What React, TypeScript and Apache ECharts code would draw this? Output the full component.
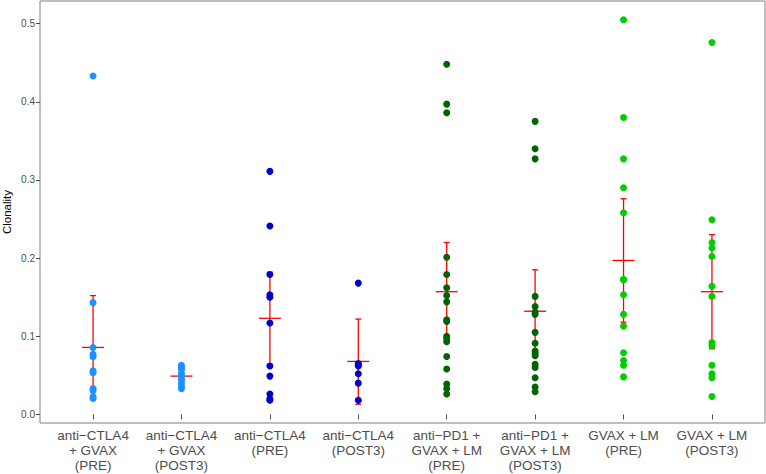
import React, { useEffect, useRef } from "react";
import * as echarts from "echarts";

const categories = [
  "anti\u2212CTLA4\n+ GVAX\n(PRE)",
  "anti\u2212CTLA4\n+ GVAX\n(POST3)",
  "anti\u2212CTLA4\n(PRE)",
  "anti\u2212CTLA4\n(POST3)",
  "anti\u2212PD1 +\nGVAX + LM\n(PRE)",
  "anti\u2212PD1 +\nGVAX + LM\n(POST3)",
  "GVAX + LM\n(PRE)",
  "GVAX + LM\n(POST3)",
];

const ctlaGvaxPre = [0.433, 0.143, 0.0857, 0.077, 0.0737, 0.0558, 0.0532, 0.0332, 0.0302, 0.0225, 0.0205];
const ctlaGvaxPost3 = [0.063, 0.06, 0.057, 0.052, 0.048, 0.044, 0.04, 0.036, 0.033];
const ctlaPre = [0.311, 0.241, 0.179, 0.153, 0.15, 0.117, 0.062, 0.049, 0.026, 0.02, 0.018];
const ctlaPost3 = [0.168, 0.065, 0.063, 0.062, 0.052, 0.04, 0.018];
const pd1GvaxLmPre = [0.448, 0.397, 0.386, 0.201, 0.179, 0.162, 0.152, 0.144, 0.121, 0.119, 0.1, 0.097, 0.093, 0.074, 0.058, 0.039, 0.033, 0.026];
const pd1GvaxLmPost3 = [0.375, 0.34, 0.327, 0.151, 0.138, 0.131, 0.128, 0.105, 0.091, 0.081, 0.078, 0.075, 0.064, 0.06, 0.047, 0.035, 0.029];
const gvaxLmPre = [0.505, 0.38, 0.327, 0.29, 0.258, 0.173, 0.172, 0.153, 0.128, 0.113, 0.079, 0.069, 0.063, 0.048];
const gvaxLmPost3 = [0.476, 0.249, 0.22, 0.213, 0.202, 0.164, 0.151, 0.092, 0.088, 0.063, 0.052, 0.047, 0.023];

const groupValues = [ctlaGvaxPre, ctlaGvaxPost3, ctlaPre, ctlaPost3, pd1GvaxLmPre, pd1GvaxLmPost3, gvaxLmPre, gvaxLmPost3];
const groupColors = ["#1E90FF", "#1E90FF", "#0000CD", "#0000CD", "#006400", "#006400", "#00CD00", "#00CD00"];

const means = [0.0857, 0.049, 0.123, 0.0678, 0.157, 0.132, 0.197, 0.157];
const lowers = [0.02, 0.045, 0.064, 0.013, 0.094, 0.079, 0.118, 0.084];
const uppers = [0.152, 0.053, 0.182, 0.122, 0.22, 0.185, 0.276, 0.23];

const yTicks = [0, 0.1, 0.2, 0.3, 0.4, 0.5];
const xTicks = [1, 2, 3, 4, 5, 6, 7, 8];

const FONT = "'Liberation Sans', Arial, Helvetica, sans-serif";

export default function App() {
  const ref = useRef<HTMLDivElement>(null);
  useEffect(() => {
    if (!ref.current) return;
    const chart = echarts.init(ref.current, null, { renderer: "svg" });
    const errData = means.map((m, i) => [i + 1, m, lowers[i], uppers[i]]);
    const scatterSeries = groupValues.map((vals, i) => ({
      type: "scatter",
      data: vals.map((v) => [i + 1, v]),
      symbol: "circle",
      symbolSize: 7,
      itemStyle: { color: groupColors[i], opacity: 1 },
      z: 3,
      silent: true,
    }));
    const option: any = {
      animation: false,
      grid: {
        left: 40,
        right: 1,
        top: 1,
        bottom: 51,
        containLabel: false,
        outerBoundsMode: "none",
        show: true,
        borderColor: "#7f7f7f",
        borderWidth: 1,
        backgroundColor: "#ffffff",
      },
      xAxis: {
        type: "value",
        min: 0.4,
        max: 8.6,
        axisLine: { show: false },
        splitLine: { show: false },
        axisTick: {
          show: true,
          customValues: xTicks,
          length: 5,
          lineStyle: { color: "#4d4d4d", width: 1 },
        },
        axisLabel: {
          customValues: xTicks,
          formatter: (v: number) => categories[Math.round(v) - 1] ?? "",
          fontFamily: FONT,
          fontSize: 13.5,
          lineHeight: 15,
          color: "#4d4d4d",
          margin: 5,
          align: "center",
        },
      },
      yAxis: {
        type: "value",
        min: -0.011,
        max: 0.529,
        name: "Clonality",
        nameLocation: "middle",
        nameGap: 27,
        nameMoveOverlap: false,
        nameTextStyle: { fontFamily: FONT, fontSize: 11.5, color: "#000000" },
        axisLine: { show: false },
        splitLine: { show: false },
        axisTick: {
          show: true,
          customValues: yTicks,
          length: 4,
          lineStyle: { color: "#4d4d4d", width: 1 },
        },
        axisLabel: {
          customValues: yTicks,
          formatter: (v: number) => v.toFixed(1),
          fontFamily: FONT,
          fontSize: 10,
          color: "#4d4d4d",
          margin: 5,
        },
      },
      series: [
        {
          type: "custom",
          data: errData,
          z: 2,
          silent: true,
          encode: { x: 0, y: 1 },
          renderItem: (params: any, api: any) => {
            const x = api.value(0);
            const pm = api.coord([x, api.value(1)]);
            const pl = api.coord([x, api.value(2)]);
            const ph = api.coord([x, api.value(3)]);
            const cap = 3;
            const half = 11;
            const style = { stroke: "#ff0000", lineWidth: 1.3 };
            return {
              type: "group",
              children: [
                { type: "line", shape: { x1: pl[0], y1: pl[1], x2: ph[0], y2: ph[1] }, style },
                { type: "line", shape: { x1: ph[0] - cap, y1: ph[1], x2: ph[0] + cap, y2: ph[1] }, style },
                { type: "line", shape: { x1: pl[0] - cap, y1: pl[1], x2: pl[0] + cap, y2: pl[1] }, style },
                { type: "line", shape: { x1: pm[0] - half, y1: pm[1], x2: pm[0] + half, y2: pm[1] }, style },
              ],
            };
          },
        },
        ...scatterSeries,
      ],
    };
    chart.setOption(option);
    return () => chart.dispose();
  }, []);
  return <div ref={ref} style={{ width: 766, height: 474, position: "absolute", left: 0, top: 0 }} />;
}
